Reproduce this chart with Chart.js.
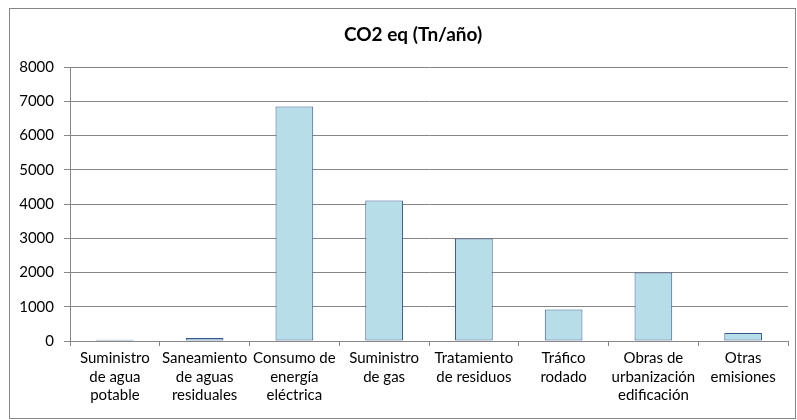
<!DOCTYPE html>
<html>
<head>
<meta charset="utf-8">
<script src="https://cdn.jsdelivr.net/npm/chart.js@4"></script>
<style>
  html, body { margin: 0; padding: 0; background: #fff; }
  #wrap { position: relative; width: 797px; height: 420px; }
</style>
</head>
<body>
<div id="wrap"><canvas id="myChart" width="797" height="420"></canvas></div>
<script>
// chart data
const chartTitle = 'CO2 eq (Tn/año)';
const labels = [
    ['Suministro', 'de agua', 'potable'],
    ['Saneamiento', 'de aguas', 'residuales'],
    ['Consumo de', 'energía', 'eléctrica'],
    ['Suministro', 'de gas'],
    ['Tratamiento', 'de residuos'],
    ['Tráfico', 'rodado'],
    ['Obras de', 'urbanización', 'edificación'],
    ['Otras', 'emisiones']
];
const datas = [40, 90, 6850, 4100, 2990, 920, 2000, 230];
const yTicks = [0, 1000, 2000, 3000, 4000, 5000, 6000, 7000, 8000];

// gray frame round the whole chart + the title (centred a bit left of the plot, like excel)
const frame = {
    id: 'frame',
    beforeDraw(chart) {
        const c = chart.ctx;
        c.save();
        c.fillStyle = '#fff';
        c.fillRect(0, 0, chart.width, chart.height);
        c.strokeStyle = '#868686';
        c.lineWidth = 1;
        c.strokeRect(9.5, 8.5, 786, 410);
        c.fillStyle = '#000';
        c.font = 'bold 19px Lato';
        c.textAlign = 'center';
        c.textBaseline = 'middle';
        c.fillText(chartTitle, 413, 35);
        c.restore();
    }
};

function chartMaker() {
    let myChart = document.getElementById('myChart').getContext('2d');

    Chart.defaults.font.size = 15;
    Chart.defaults.font.family = 'Lato';
    Chart.defaults.color = '#000';

    new Chart(myChart, {
        type: 'bar',
        data: {
            labels: labels,
            datasets: [{
                label: chartTitle,
                data: datas,
                backgroundColor: '#B7DDE8',
                borderColor: '#35598F',
                borderWidth: 1,
                borderSkipped: false,
                barPercentage: 0.42,
                categoryPercentage: 1
            }]
        },
        options: {
            responsive: false,
            animation: false,
            layout: { padding: { top: 67, right: 9, left: 0, bottom: 0 } },
            plugins: {
                legend: { display: false },
                tooltip: { enabled: false },
                title: { display: false }
            },
            scales: {
                x: {
                    afterFit: (s) => { s.height = 79; },
                    grid: { drawOnChartArea: false, drawTicks: true, tickLength: 5, color: '#868686' },
                    border: { color: '#868686' },
                    ticks: { padding: 3, maxRotation: 0, autoSkip: false, font: { size: 15, lineHeight: 1.24 } }
                },
                y: {
                    min: 0,
                    max: 8000,
                    afterFit: (s) => { s.width = 70; },
                    afterBuildTicks: (s) => { s.ticks = yTicks.map(v => ({ value: v })); },
                    grid: { color: '#868686', tickLength: 6 },
                    border: { color: '#868686' },
                    ticks: { padding: 10, font: { size: 15 }, callback: (v) => String(v) }
                }
            }
        },
        plugins: [frame]
    });
}

chartMaker();
</script>
</body>
</html>
